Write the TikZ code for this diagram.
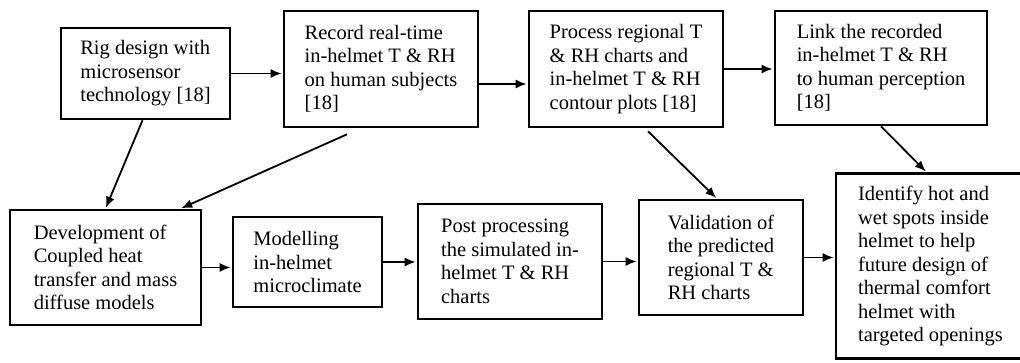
\documentclass[tikz,border=0pt]{standalone}
\usepackage{fontspec}
\setmainfont{Liberation Serif}
\usetikzlibrary{positioning, arrows, arrows.meta}

\tikzset{
  stage/.style={draw, line width=2.6pt, align=left, inner sep=0pt,
    font=\rmfamily\fontsize{20.5pt}{23.5pt}\selectfont},
}

\begin{document}
\begin{tikzpicture}[x=1pt, y=-1pt, on grid, >={Latex[length=11pt, width=9pt]}, line width=1.8pt, shorten >=1pt]
  \useasboundingbox (0,0) rectangle (1020,362);
  \clip (0,0) rectangle (1020,362);

  \node[stage, minimum width=169pt, minimum height=91pt] (rig) at (145.5,73.5)
    {Rig design with\\ microsensor\\ technology [18]};
  \node[stage, minimum width=194pt, minimum height=116pt] (rec) [above right=4.5pt and 235.5pt of rig]
    {Record real-time\\ in-helmet T \& RH\\ on human subjects\\ {[18]}};
  \node[stage, minimum width=194pt, minimum height=116pt] (proc) [right=245pt of rec]
    {Process regional T\\ \& RH charts and\\ in-helmet T \& RH\\ contour plots [18]};
  \node[stage, minimum width=212pt, minimum height=114pt] (link) [above right=1pt and 255pt of proc]
    {Link the recorded\\ in-helmet T \& RH\\ to human perception\\ {[18]}};
  \node[stage, minimum width=191pt, minimum height=115pt] (dev) [below left=194pt and 40pt of rig]
    {Development of\\ Coupled heat\\ transfer and mass\\ diffuse models};
  \node[stage, minimum width=149pt, minimum height=90pt] (mod) [above right=5.5pt and 202pt of dev]
    {Modelling\\ in-helmet\\ microclimate};
  \node[stage, minimum width=184pt, minimum height=115pt] (post) [above right=0.5pt and 202.5pt of mod]
    {Post processing\\ the simulated in-\\ helmet T \& RH\\ charts};
  \node[stage, minimum width=164pt, minimum height=115pt] (val) [above right=4pt and 211pt of post]
    {Validation of\\ the predicted\\ regional T \&\\ RH charts};
  \node[stage, minimum width=189pt, minimum height=185pt] (ident) [below right=8.5pt and 209.5pt of val]
    {Identify hot and\\ wet spots inside\\ helmet to help\\ future design of\\ thermal comfort\\ helmet with\\ targeted openings};

  \path[->]
  (rig.east) edge (rig.east -| rec.west)
  ([yshift=-15pt]rec.east) edge ([yshift=-15pt]proc.west)
  (proc.east) edge (proc.east -| link.west)
  ([xshift=-3pt]rig.south) edge (dev.north)
  ([xshift=-34pt, yshift=-6pt]rec.south) edge ([xshift=-22pt]dev.north east)
  ([xshift=22pt, yshift=-3pt]proc.south) edge ([xshift=-4pt]val.north)
  (link.south) edge ([xshift=-4pt]ident.north)
  (dev.east) edge (dev.east -| mod.west)
  (mod.east) edge (mod.east -| post.west)
  (post.east) edge (post.east -| val.west)
  (val.east) edge (val.east -| ident.west);
\end{tikzpicture}
\end{document}
